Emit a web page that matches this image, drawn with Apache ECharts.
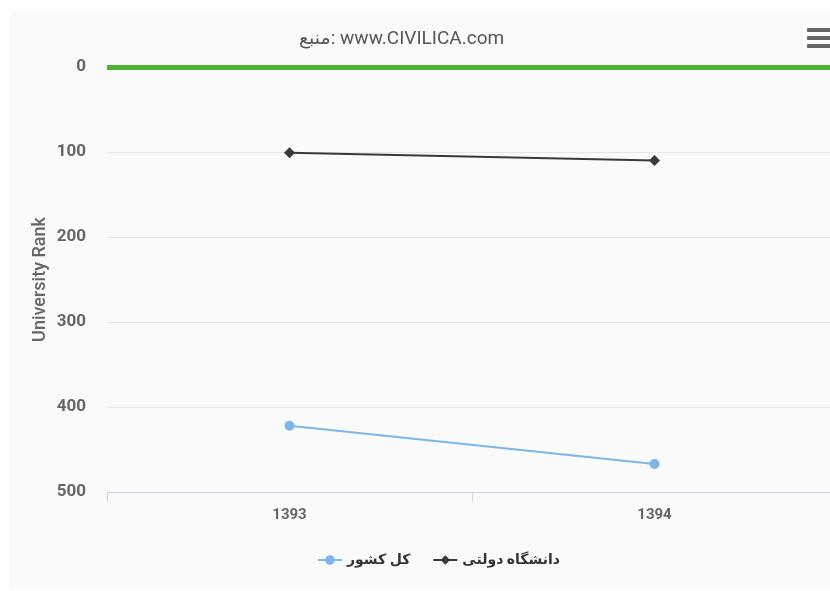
<!DOCTYPE html>
<html>
<head>
<meta charset="utf-8">
<script src="https://cdn.jsdelivr.net/npm/echarts@6/dist/echarts.min.js"></script>
<style>
html,body{margin:0;padding:0;background:#fff;width:830px;height:591px;overflow:hidden;}
#c{position:absolute;left:10px;top:10px;width:830px;height:578px;background:#fafafa;}
</style>
</head>
<body>
<div id="c"></div>
<script>
const categories = ['1393', '1394'];
const seriesNames = ['کل کشور', 'دانشگاه دولتی'];
const countryRank = [422, 467];
const stateUniRank = [101, 110];
const yTicks = [0, 100, 200, 300, 400, 500];

const chart = echarts.init(document.getElementById('c'), null, {renderer: 'canvas'});
const font = 'Roboto, "DejaVu Sans", sans-serif';
chart.setOption({
  backgroundColor: '#fafafa',
  animation: false,
  title: {
    text: 'منبع: www.CIVILICA.com',
    left: 284, top: 15,
    textStyle: {fontFamily: font, fontSize: 19, fontWeight: 'normal', color: '#555'}
  },
  legend: {
    left: 302, top: 538,
    itemGap: 22, itemWidth: 24, itemHeight: 12,
    data: seriesNames,
    textStyle: {fontFamily: font, fontSize: 14, fontWeight: 'bold', color: '#333'}
  },
  grid: {left: 97, top: 57, width: 730, height: 425, containLabel: false},
  xAxis: {
    type: 'category',
    position: 'bottom',
    data: categories,
    boundaryGap: true,
    axisLine: {onZero: false, lineStyle: {color: '#ccd6eb', width: 1}},
    axisTick: {show: true, length: 10, alignWithLabel: false, lineStyle: {color: '#ccd6eb'}},
    axisLabel: {margin: 16, fontFamily: font, fontSize: 15, fontWeight: 'bold', color: '#666'},
    splitLine: {show: false}
  },
  yAxis: {
    type: 'value',
    inverse: true,
    min: yTicks[0], max: yTicks[yTicks.length - 1], interval: 100,
    name: 'University Rank',
    nameLocation: 'middle',
    nameGap: 58,
    nameMoveOverlap: false,
    nameTextStyle: {fontFamily: font, fontSize: 18, fontWeight: 500, color: '#666'},
    axisLine: {show: false},
    axisTick: {show: false},
    axisLabel: {margin: 21, fontFamily: font, fontSize: 17, fontWeight: 'bold', color: '#666'},
    splitLine: {show: true, lineStyle: {color: '#e6e6e6', width: 1}}
  },
  series: [
    {
      name: seriesNames[0],
      type: 'line',
      data: countryRank,
      color: '#7cb5ec',
      symbol: 'circle', symbolSize: 10,
      lineStyle: {width: 2},
      markLine: {
        silent: true, symbol: 'none',
        label: {show: false},
        lineStyle: {color: '#50b432', width: 5, type: 'solid'},
        data: [{yAxis: 0}]
      }
    },
    {
      name: seriesNames[1],
      type: 'line',
      data: stateUniRank,
      color: '#3a3a3d',
      symbol: 'diamond', symbolSize: 11,
      lineStyle: {width: 2}
    }
  ],
  graphic: [
    {type: 'rect', left: 797, top: 18, shape: {width: 26, height: 4, r: 1}, style: {fill: '#666'}},
    {type: 'rect', left: 797, top: 26, shape: {width: 26, height: 4, r: 1}, style: {fill: '#666'}},
    {type: 'rect', left: 797, top: 34, shape: {width: 26, height: 4, r: 1}, style: {fill: '#666'}}
  ]
});
</script>
</body>
</html>
